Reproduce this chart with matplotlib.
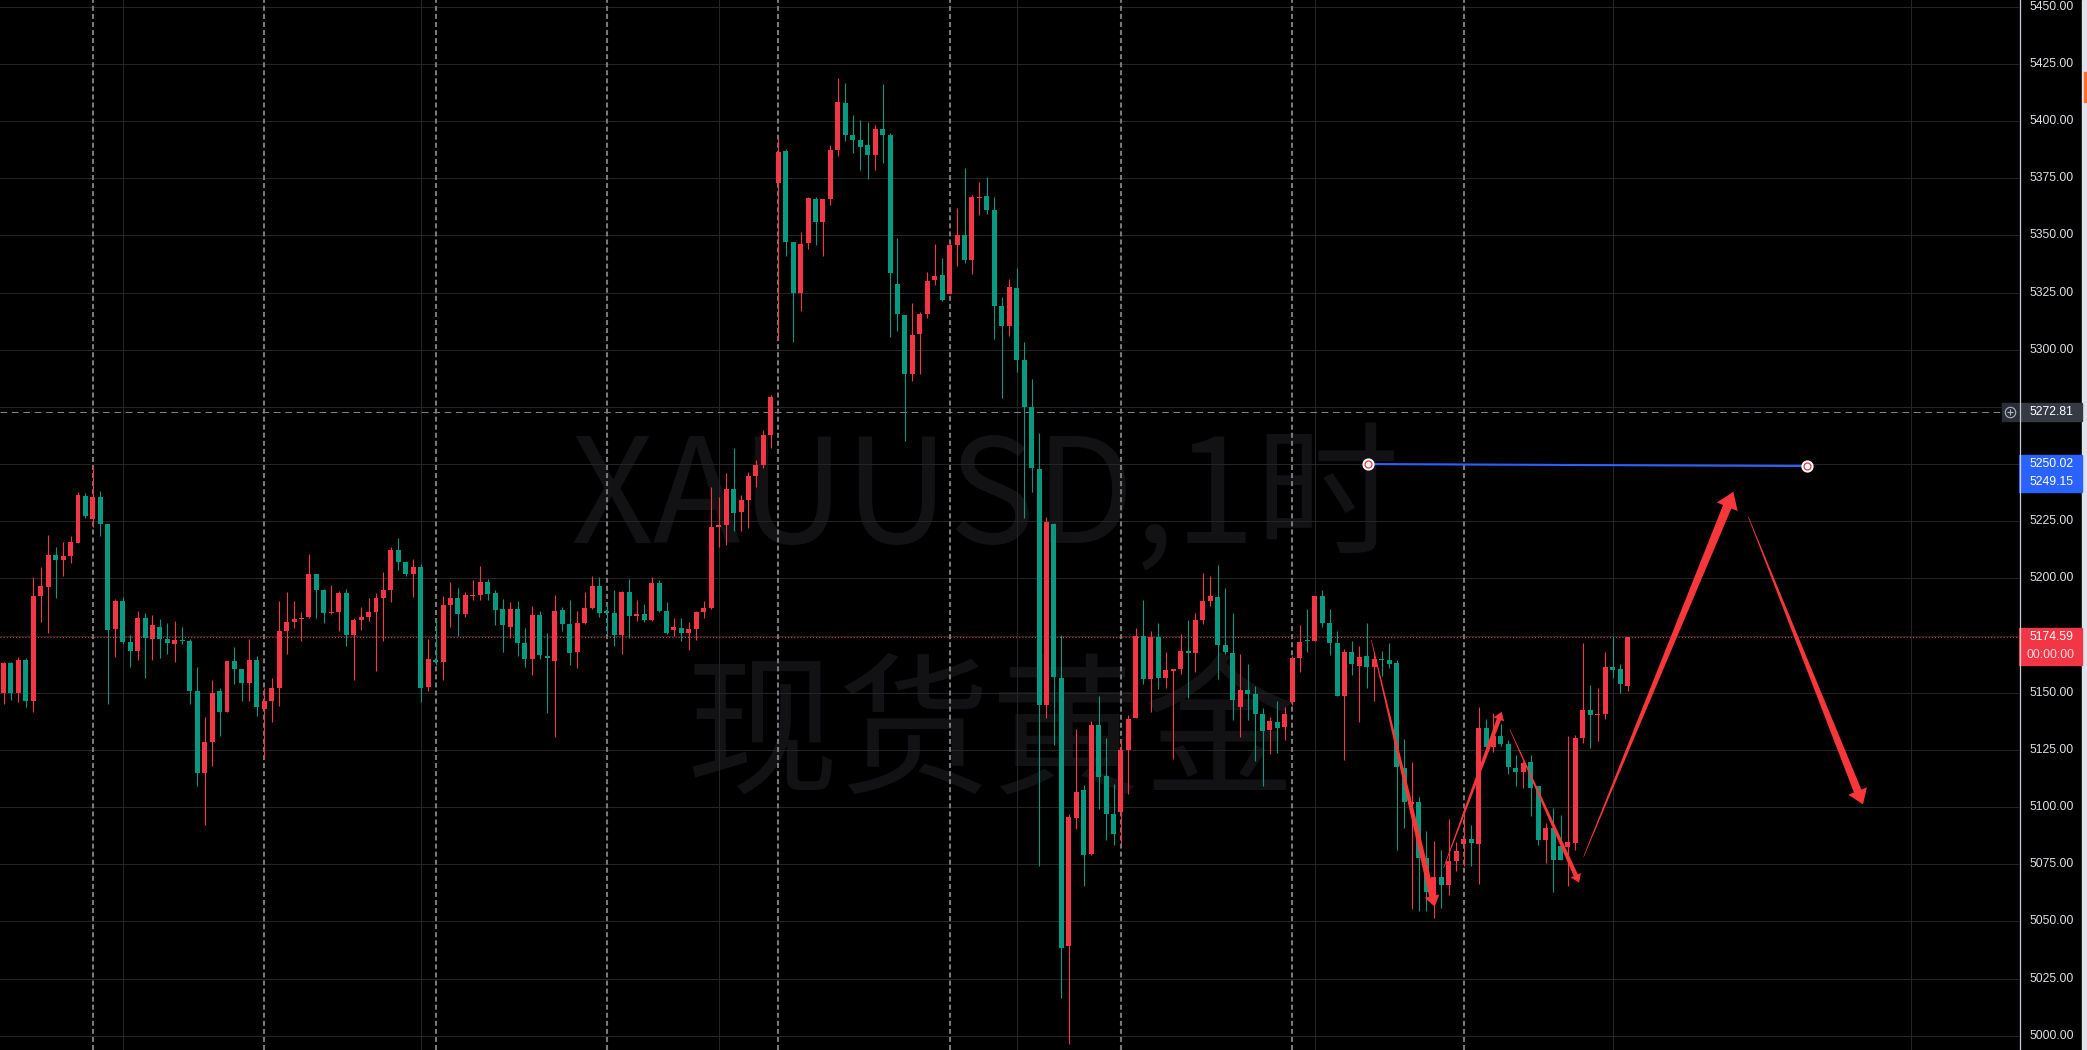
import numpy as np
import matplotlib.pyplot as plt
from matplotlib.patches import Rectangle, Polygon
from matplotlib.transforms import IdentityTransform

plt.rcParams['lines.scale_dashes'] = False

# hourly candles, XAUUSD (red = up, green = down)
opens = [5149.7, 5162.9, 5149.7, 5164.2, 5146.2, 5192.3, 5196.2, 5210.2, 5208.0, 5209.8,
         5215.5, 5236.1, 5226.0, 5235.7, 5223.8, 5177.8, 5190.1, 5172.1, 5168.1, 5182.6,
         5173.4, 5178.7, 5173.4, 5171.2, 5173.0, 5172.5, 5151.0, 5115.1, 5128.7, 5150.6,
         5141.8, 5163.7, 5160.2, 5154.1, 5164.2, 5142.7, 5146.6, 5152.3, 5176.9, 5180.8,
         5182.2, 5183.0, 5201.9, 5194.9, 5184.8, 5185.2, 5193.6, 5175.3, 5181.9, 5183.2,
         5185.4, 5191.5, 5195.0, 5212.5, 5207.2, 5202.0, 5205.0, 5152.6, 5164.4, 5163.5,
         5188.4, 5191.5, 5184.5, 5192.3, 5192.8, 5198.5, 5193.7, 5186.7, 5178.8, 5186.7,
         5171.8, 5164.8, 5184.0, 5166.1, 5163.9, 5186.2, 5180.1, 5167.9, 5180.5, 5187.1,
         5196.7, 5185.8, 5184.9, 5175.3, 5194.1, 5183.6, 5184.5, 5181.9, 5198.0, 5185.8,
         5177.5, 5178.4, 5176.2, 5177.9, 5185.5, 5187.2, 5222.7, 5223.5, 5239.3, 5229.2,
         5234.5, 5245.0, 5249.4, 5262.9, 5373.0, 5387.0, 5347.1, 5324.7, 5346.6, 5366.0,
         5355.8, 5366.0, 5387.4, 5408.0, 5394.0, 5391.8, 5389.6, 5385.2, 5396.6, 5394.0,
         5328.7, 5315.1, 5289.6, 5306.7, 5315.5, 5330.4, 5332.6, 5324.3, 5345.8, 5350.1,
         5339.2, 5366.4, 5367.3, 5361.1, 5319.0, 5310.2, 5326.9, 5295.3, 5274.9, 5247.7,
         5144.7, 5223.7, 5156.6, 5039.3, 5095.2, 5107.5, 5079.5, 5136.0, 5113.6, 5097.0,
         5097.9, 5125.0, 5139.0, 5174.7, 5156.2, 5174.5, 5156.6, 5159.6, 5160.5, 5168.4,
         5167.3, 5182.0, 5190.1, 5191.9, 5171.1, 5167.3, 5143.9, 5151.3, 5149.6, 5140.8,
         5133.8, 5137.3, 5135.1, 5146.1, 5165.3, 5173.0, 5172.5, 5192.3, 5180.4, 5171.6,
         5148.4, 5167.7, 5161.5, 5165.9, 5161.1, 5164.6, 5164.2, 5162.9, 5117.3, 5101.5,
         5102.3, 5077.8, 5059.4, 5069.4, 5065.9, 5076.5, 5083.9, 5086.1, 5083.9, 5134.8,
         5126.5, 5131.3, 5127.8, 5117.3, 5115.5, 5119.9, 5109.4, 5085.7, 5090.9, 5083.0,
         5082.6, 5084.4, 5130.4, 5142.3, 5140.1, 5140.9, 5161.1, 5160.2, 5152.8]
highs = [5163.5, 5163.5, 5165.5, 5165.1, 5200.6, 5205.0, 5219.0, 5213.7, 5215.9, 5218.6,
         5237.9, 5237.4, 5249.7, 5238.3, 5223.8, 5190.9, 5191.8, 5175.1, 5185.7, 5184.8,
         5183.9, 5182.2, 5180.4, 5181.3, 5178.7, 5173.4, 5161.1, 5139.2, 5155.4, 5152.3,
         5163.7, 5169.9, 5160.2, 5173.4, 5165.9, 5152.3, 5156.3, 5190.1, 5194.0, 5190.1,
         5185.2, 5210.7, 5201.9, 5195.3, 5197.1, 5194.4, 5195.3, 5182.7, 5187.5, 5191.5,
         5193.7, 5202.8, 5213.8, 5217.7, 5207.7, 5208.5, 5206.3, 5173.5, 5181.9, 5192.3,
         5198.5, 5195.8, 5194.1, 5199.3, 5205.5, 5199.8, 5195.0, 5191.0, 5189.7, 5190.2,
         5178.4, 5188.0, 5185.8, 5176.2, 5192.8, 5187.5, 5190.6, 5185.8, 5194.1, 5201.1,
         5200.7, 5188.8, 5195.0, 5194.5, 5199.8, 5190.6, 5188.8, 5200.7, 5199.3, 5189.7,
         5182.7, 5182.7, 5181.0, 5185.8, 5190.3, 5240.2, 5235.8, 5246.3, 5257.2, 5236.7,
         5246.7, 5252.0, 5265.1, 5280.4, 5393.1, 5387.9, 5347.1, 5351.5, 5366.8, 5366.8,
         5366.0, 5389.6, 5419.0, 5416.8, 5402.8, 5400.6, 5399.7, 5398.4, 5416.4, 5394.9,
         5348.8, 5315.1, 5320.3, 5316.4, 5333.9, 5346.2, 5340.1, 5347.1, 5362.0, 5379.5,
         5367.7, 5373.4, 5375.6, 5366.8, 5323.0, 5330.8, 5335.7, 5303.6, 5287.4, 5263.7,
         5226.7, 5224.2, 5175.4, 5097.0, 5134.2, 5109.7, 5137.7, 5148.7, 5130.3, 5110.1,
         5129.8, 5140.4, 5178.5, 5190.6, 5177.0, 5180.7, 5168.0, 5160.5, 5175.8, 5182.0,
         5184.7, 5202.6, 5201.0, 5205.9, 5195.9, 5184.7, 5167.1, 5162.7, 5153.1, 5143.4,
         5139.5, 5146.5, 5143.9, 5166.2, 5179.8, 5186.5, 5192.3, 5194.9, 5186.5, 5176.9,
         5169.0, 5172.5, 5170.3, 5180.4, 5167.7, 5168.1, 5171.6, 5164.2, 5130.0, 5119.9,
         5104.5, 5089.6, 5085.2, 5081.3, 5094.9, 5084.8, 5101.5, 5092.3, 5144.0, 5138.7,
         5141.0, 5136.5, 5129.5, 5123.0, 5120.3, 5123.0, 5109.4, 5093.1, 5099.7, 5096.6,
         5131.3, 5131.7, 5171.6, 5153.2, 5152.3, 5167.7, 5174.7, 5162.4, 5174.59]
lows = [5145.3, 5146.8, 5145.8, 5143.6, 5141.4, 5180.9, 5176.0, 5191.4, 5201.0, 5206.7,
        5215.5, 5226.5, 5222.5, 5218.6, 5145.3, 5165.5, 5171.2, 5161.1, 5164.2, 5156.3,
        5164.2, 5165.1, 5166.8, 5163.3, 5171.2, 5145.3, 5109.4, 5092.3, 5118.1, 5131.3,
        5141.8, 5153.7, 5146.6, 5146.6, 5140.0, 5121.6, 5137.4, 5144.4, 5166.8, 5178.2,
        5172.5, 5182.6, 5182.6, 5180.4, 5184.4, 5176.9, 5170.3, 5155.6, 5177.5, 5181.4,
        5159.5, 5172.7, 5189.7, 5203.7, 5201.1, 5191.9, 5146.0, 5150.8, 5162.2, 5155.6,
        5178.8, 5174.9, 5183.2, 5190.6, 5190.6, 5190.6, 5179.7, 5167.9, 5174.0, 5166.1,
        5161.3, 5157.8, 5164.8, 5141.2, 5130.7, 5177.0, 5162.2, 5160.9, 5180.1, 5186.7,
        5183.2, 5175.7, 5170.5, 5167.0, 5174.0, 5181.4, 5181.0, 5181.4, 5185.3, 5175.7,
        5174.9, 5172.7, 5168.7, 5173.3, 5182.9, 5186.8, 5213.6, 5214.8, 5220.9, 5220.9,
        5222.2, 5240.2, 5248.5, 5257.2, 5304.5, 5340.9, 5303.2, 5316.8, 5344.0, 5345.8,
        5340.9, 5363.3, 5384.8, 5391.4, 5386.1, 5378.7, 5374.7, 5378.7, 5381.7, 5305.4,
        5308.0, 5260.2, 5286.5, 5289.2, 5313.7, 5328.2, 5321.2, 5324.3, 5336.5, 5337.9,
        5333.0, 5358.9, 5359.4, 5304.5, 5278.7, 5305.9, 5290.1, 5226.3, 5237.8, 5074.4,
        5138.8, 5127.2, 5016.5, 4996.4, 5090.4, 5065.4, 5079.0, 5099.2, 5085.6, 5083.4,
        5083.8, 5105.8, 5139.0, 5153.7, 5141.4, 5151.8, 5152.2, 5121.1, 5158.3, 5147.6,
        5159.2, 5179.9, 5188.0, 5156.2, 5166.9, 5138.0, 5130.7, 5138.2, 5120.2, 5109.3,
        5123.3, 5123.7, 5129.4, 5144.7, 5159.2, 5167.7, 5172.5, 5178.7, 5166.4, 5148.4,
        5120.8, 5158.0, 5137.4, 5152.3, 5146.2, 5157.2, 5160.7, 5081.3, 5090.9, 5055.4,
        5054.4, 5054.4, 5051.5, 5055.8, 5061.6, 5072.1, 5074.3, 5074.3, 5066.4, 5126.5,
        5124.3, 5126.9, 5114.6, 5109.4, 5108.5, 5096.2, 5083.5, 5075.6, 5062.9, 5076.9,
        5065.5, 5081.3, 5128.2, 5126.0, 5129.1, 5138.7, 5156.3, 5149.7, 5151.0]
closes = [5162.9, 5149.7, 5164.2, 5146.2, 5192.3, 5196.6, 5210.2, 5208.0, 5209.8, 5215.9,
          5236.5, 5227.3, 5235.7, 5223.8, 5177.3, 5190.1, 5172.1, 5168.1, 5182.6, 5173.8,
          5179.5, 5173.4, 5171.6, 5173.0, 5172.5, 5150.6, 5115.1, 5128.7, 5150.1, 5141.8,
          5163.7, 5160.2, 5154.1, 5164.2, 5143.6, 5146.6, 5152.3, 5176.9, 5180.8, 5182.2,
          5182.6, 5201.9, 5194.9, 5184.8, 5185.2, 5193.6, 5175.1, 5181.9, 5183.2, 5185.4,
          5191.5, 5195.0, 5212.5, 5207.2, 5202.0, 5205.0, 5152.1, 5164.8, 5163.5, 5188.4,
          5191.5, 5184.5, 5192.8, 5192.8, 5198.5, 5193.2, 5186.2, 5179.7, 5186.7, 5171.8,
          5164.8, 5184.0, 5166.5, 5165.2, 5185.8, 5180.1, 5167.4, 5180.5, 5187.1, 5196.7,
          5184.9, 5184.9, 5175.3, 5194.1, 5183.6, 5184.5, 5181.9, 5198.0, 5185.8, 5176.2,
          5178.8, 5176.2, 5177.9, 5185.5, 5187.2, 5222.7, 5223.5, 5239.3, 5228.8, 5234.5,
          5245.0, 5249.8, 5262.9, 5279.5, 5386.5, 5347.1, 5324.7, 5346.2, 5366.4, 5355.8,
          5366.0, 5387.4, 5408.5, 5394.0, 5391.8, 5388.7, 5385.2, 5396.6, 5394.0, 5333.5,
          5315.5, 5289.6, 5306.3, 5315.5, 5330.0, 5332.2, 5321.6, 5345.8, 5350.1, 5339.2,
          5366.8, 5366.8, 5361.1, 5319.0, 5310.2, 5327.3, 5295.3, 5274.9, 5248.1, 5144.7,
          5224.6, 5156.7, 5038.4, 5095.7, 5106.6, 5079.0, 5136.0, 5113.2, 5097.0, 5088.2,
          5125.0, 5138.6, 5175.0, 5156.2, 5174.3, 5156.6, 5160.1, 5160.5, 5168.4, 5167.6,
          5182.0, 5190.0, 5192.3, 5171.1, 5168.0, 5146.8, 5151.3, 5149.6, 5140.8, 5133.4,
          5137.7, 5134.7, 5140.8, 5165.3, 5172.3, 5172.5, 5192.3, 5180.4, 5171.6, 5148.8,
          5167.7, 5162.4, 5165.5, 5161.1, 5164.6, 5164.2, 5162.4, 5117.7, 5102.3, 5102.3,
          5077.8, 5062.9, 5069.4, 5065.9, 5076.5, 5080.8, 5086.1, 5084.4, 5134.8, 5126.5,
          5131.3, 5127.8, 5117.7, 5115.5, 5119.4, 5108.5, 5085.7, 5090.9, 5076.9, 5076.9,
          5084.8, 5130.4, 5142.3, 5140.1, 5140.9, 5161.1, 5159.8, 5153.7, 5174.59]

price_ticks = list(range(5000, 5451, 25))
day_breaks = [12, 35, 58, 81, 104, 127, 150, 173, 196]
time_grid = [16, 56, 96, 136, 176, 216, 256]

last_price = 5174.59
last_timer = '00:00:00'
cross_price = 5272.81

# horizontal ray drawn by hand
level_idx = [183.1, 242.1]
level_prices = [5250.02, 5249.15]

# hand drawn arrows (candle index, price)
arrow_x0 = [183.6, 193.3, 202.2, 212.1, 234.2]
arrow_y0 = [5173.1, 5073.4, 5133.9, 5078.3, 5227.0]
arrow_x1 = [192.1, 201.1, 211.5, 232.2, 249.6]
arrow_y1 = [5056.5, 5141.7, 5067.0, 5237.9, 5101.2]
arrow_w = [6, 4.5, 4.5, 9, 8]

RED = '#f23645'
GREEN = '#089981'
W, H = 2087, 1050
AX_W = 2019
YLIM = (4993.81, 5452.93)
PPU = H / (YLIM[1] - YLIM[0])   # pixels per price unit

fig = plt.figure(figsize=(W / 100, H / 100), dpi=100, facecolor='black')
ax = fig.add_axes([0, 0, AX_W / W, 1])
ax.set_xlim(-0.47, 270.54)
ax.set_ylim(*YLIM)
ax.set_axis_off()

# watermark
ax.text(0.488, 0.522, 'XAUUSD,1时', transform=ax.transAxes, ha='center', va='center',
        fontsize=104, color='#121214', family=['Noto Sans CJK SC'], zorder=0.5)
ax.text(0.491, 0.296, '现货黄金', transform=ax.transAxes, ha='center', va='center',
        fontsize=110, color='#121214', family=['Noto Sans CJK SC'], zorder=0.5)

# grid
for p in price_ticks:
    ax.axhline(p, color='#242424', lw=0.75, zorder=1)
for c in time_grid:
    ax.axvline(c, color='#242424', lw=0.75, zorder=1)
for c in day_breaks:
    ax.axvline(c, color='#787878', lw=1.5, ls=(0, (3.6, 2.2)), zorder=1.5)

ax.axhline(last_price, color=RED, lw=0.75, ls=(0, (0.75, 1.5)), zorder=2)
ax.axhline(cross_price, color='#7e818a', lw=0.75, ls=(0, (4.8, 3.4)), zorder=2)

# candles
o = np.array(opens)
h = np.array(highs)
l = np.array(lows)
c = np.array(closes)
x = np.arange(len(o))
cols = np.where(c >= o, RED, GREEN)
ax.vlines(x, l, h, colors=cols, lw=0.8, zorder=3)
body_lo = np.minimum(o, c)
body_h = np.maximum(np.abs(c - o), 0.45)
ax.bar(x, body_h, 0.67, body_lo, color=cols, linewidth=0, zorder=4)

# blue level line with handles
ax.plot(level_idx, level_prices, color='#2962ff', lw=1.5, zorder=6)
ax.plot(level_idx, level_prices, 'o', ms=7.8, mfc='white', mec='white', zorder=7)
ax.plot(level_idx, level_prices, 'o', ms=5.0, mfc='white', mec=RED, mew=0.9, zorder=8)


def tapered_arrow(p0, p1, w, color):
    (x0, y0), (x1, y1) = ax.transData.transform([p0, p1])
    dx, dy = x1 - x0, y1 - y0
    L = np.hypot(dx, dy)
    ux, uy = dx / L, dy / L
    nx, ny = -uy, ux
    hl, hw = 1.8 * w, 2.5 * w
    bx, by = x1 - ux * hl, y1 - uy * hl
    pts = [(x0 + nx * 0.3, y0 + ny * 0.3),
           (bx + nx * w / 2, by + ny * w / 2),
           (bx + nx * hw / 2, by + ny * hw / 2),
           (x1, y1),
           (bx - nx * hw / 2, by - ny * hw / 2),
           (bx - nx * w / 2, by - ny * w / 2),
           (x0 - nx * 0.3, y0 - ny * 0.3)]
    fig.add_artist(Polygon(pts, closed=True, transform=IdentityTransform(),
                           facecolor=color, edgecolor='none', zorder=9))


for i in range(len(arrow_x0)):
    tapered_arrow((arrow_x0[i], arrow_y0[i]), (arrow_x1[i], arrow_y1[i]), arrow_w[i], '#f8373b')

# price scale panel
pax = fig.add_axes([AX_W / W, 0, (W - AX_W) / W, 1])
pax.set_xlim(0, W - AX_W)
pax.set_ylim(*YLIM)
pax.set_axis_off()
pax.add_patch(Rectangle((0, YLIM[0]), 63, YLIM[1] - YLIM[0], color='black', zorder=0))
pax.add_patch(Rectangle((63, YLIM[0]), 5, YLIM[1] - YLIM[0], color='#e0e3eb', zorder=0))
pax.add_patch(Rectangle((64.5, 5450 - 95 / PPU), 3.5, 30 / PPU, color='#ff6d2d', zorder=1))
pax.axvline(0.5, color='#c9ccd3', lw=0.9, zorder=5)

# tick labels hidden under the coloured price tags are left out
covered = [5275, 5250, 5175]
lab = dict(family='Liberation Sans', fontsize=8.8, va='center', ha='left')
for p in price_ticks:
    if p in covered:
        continue
    pax.text(10, p, f'{p:.2f}', color='#dcdee3', zorder=2, **lab)

# crosshair label + button
pax.add_patch(Rectangle((0, cross_price - 9 / PPU), 63, 18 / PPU, color='#363a45', zorder=3))
pax.text(10, cross_price, f'{cross_price:.2f}', color='white', zorder=4, **lab)
pax.add_patch(Rectangle((-17.5, cross_price - 9 / PPU), 17.5, 18 / PPU, color='#2a2e39',
                        zorder=3, clip_on=False))
pax.plot([-8.8], [cross_price], 'o', ms=7.5, mfc='none', mec='#b2b5be', mew=0.8,
         zorder=4, clip_on=False)
pax.plot([-8.8], [cross_price], '+', ms=5, mec='#b2b5be', mew=0.8, zorder=4, clip_on=False)

# level labels
top = level_prices[0] + 9 / PPU
pax.add_patch(Rectangle((0, top - 37 / PPU), 63, 37 / PPU, color='#2962ff', zorder=3))
pax.text(10, level_prices[0], f'{level_prices[0]:.2f}', color='white', zorder=4, **lab)
pax.text(10, level_prices[0] - 18 / PPU, f'{level_prices[1]:.2f}', color='white', zorder=4, **lab)

# last price label
top = last_price + 9 / PPU
pax.add_patch(Rectangle((0, top - 37 / PPU), 63, 37 / PPU, color=RED, zorder=3))
pax.text(10, last_price, f'{last_price:.2f}', color='white', zorder=4, **lab)
pax.text(31.5, last_price - 18 / PPU, last_timer, color='#fcd9dc', zorder=4,
         family='Liberation Sans', fontsize=8.8, va='center', ha='center')

fig.savefig('out.png', dpi=100, facecolor='black')
